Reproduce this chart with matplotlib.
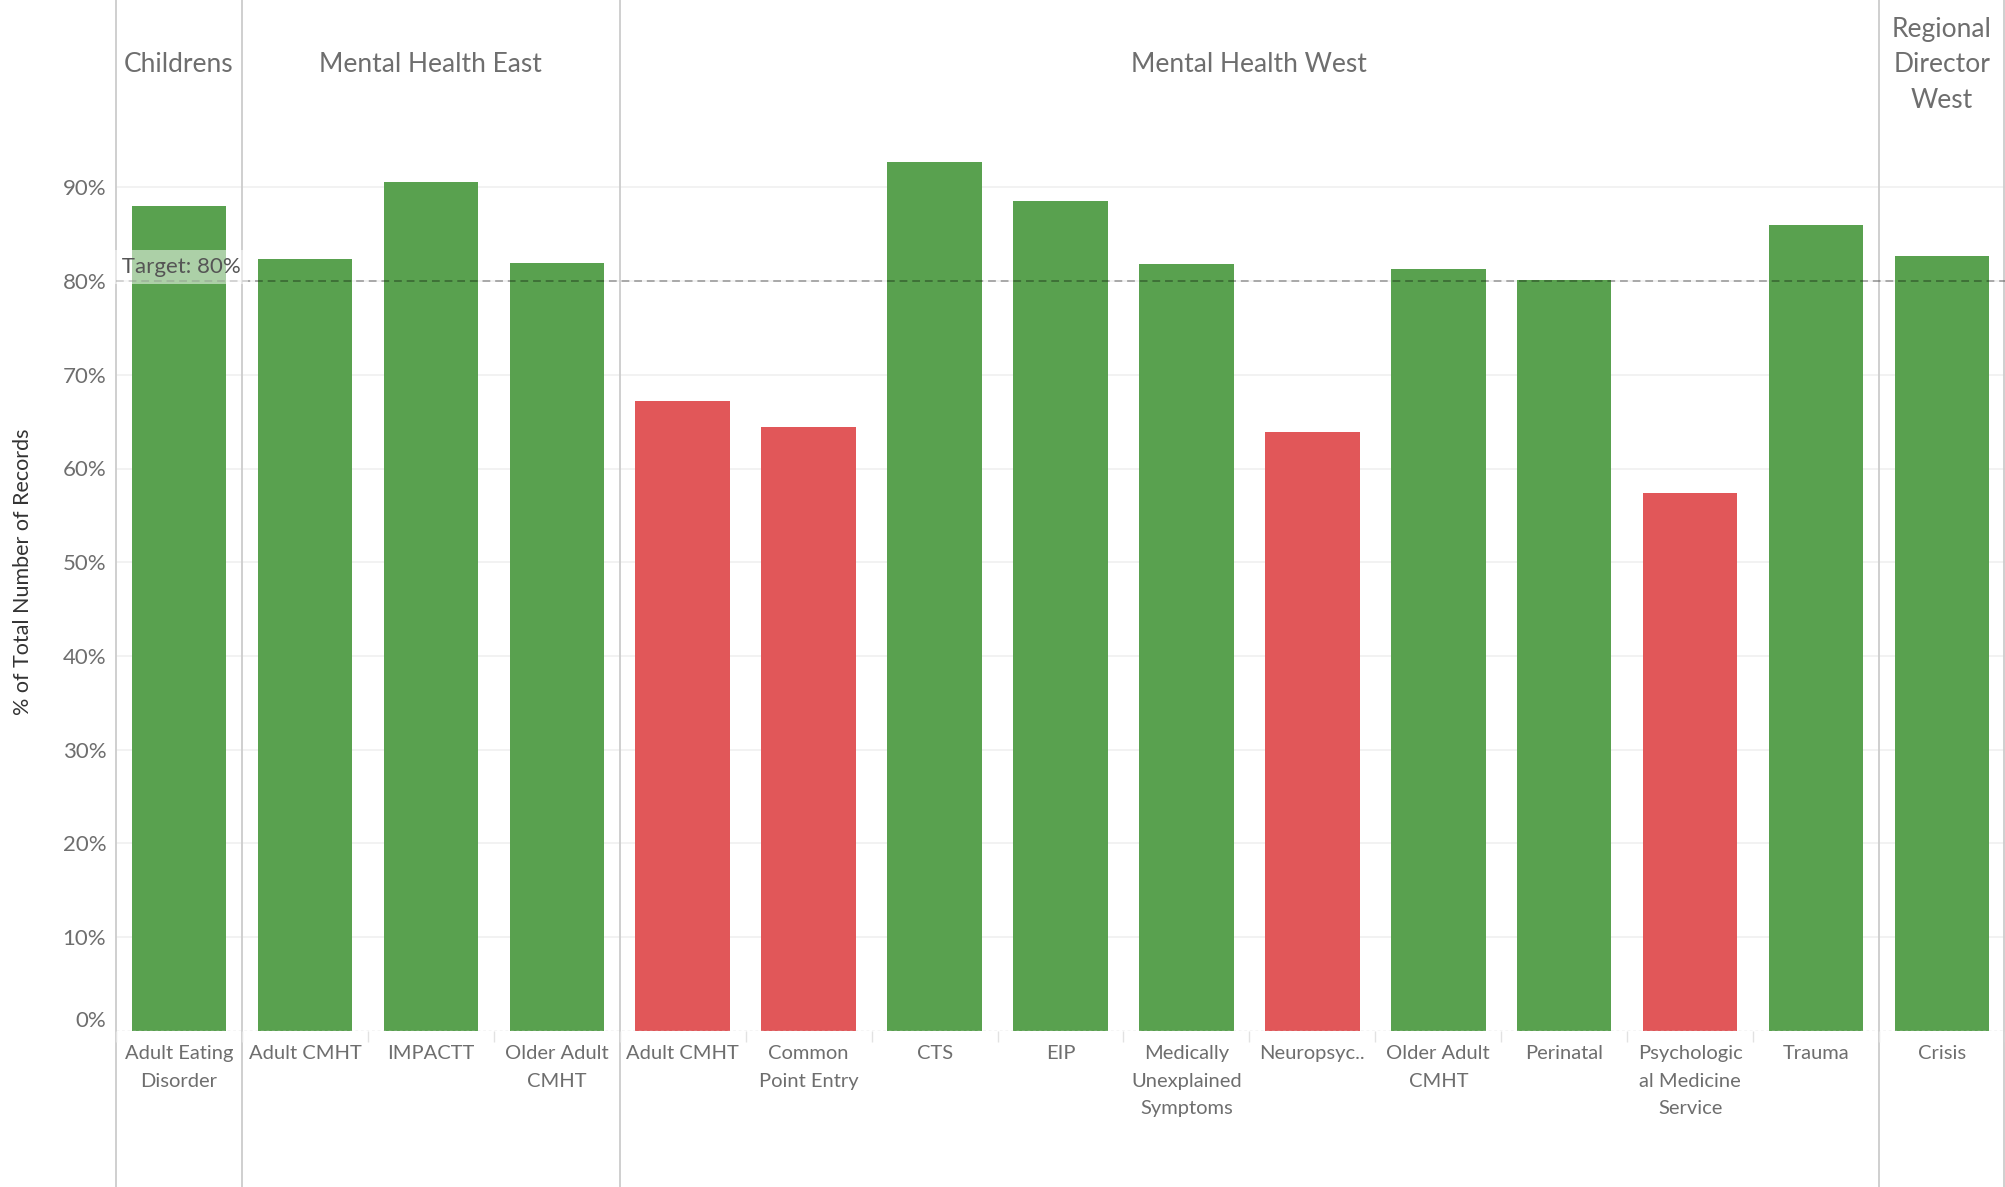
#!/usr/bin/env python3
"""
Bar chart of % of total number of records per team, grouped by directorate,
with a dashed 80% target line. Bars under target are shown in red.
"""

import matplotlib

matplotlib.use("Agg")
import matplotlib.pyplot as plt
import matplotlib.transforms as mtransforms
import numpy as np

# Data
groups = ["Childrens", "Mental Health East", "Mental Health West", "Regional\nDirector\nWest"]
group_sizes = [1, 3, 10, 1]

teams = [
    "Adult Eating\nDisorder",
    "Adult CMHT",
    "IMPACTT",
    "Older Adult\nCMHT",
    "Adult CMHT",
    "Common\nPoint Entry",
    "CTS",
    "EIP",
    "Medically\nUnexplained\nSymptoms",
    "Neuropsyc..",
    "Older Adult\nCMHT",
    "Perinatal",
    "Psychologic\nal Medicine\nService",
    "Trauma",
    "Crisis",
]

pct_records = [88.0, 82.4, 90.6, 81.9, 67.2, 64.4, 92.7, 88.6, 81.8, 63.9, 81.3, 80.1, 57.4, 86.0, 82.7]

target = 80.0
y_ticks = [0, 10, 20, 30, 40, 50, 60, 70, 80, 90]

GREEN = "#59A14F"
RED = "#E15759"
TEXT_GREY = "#6e6e6e"
FONT = ["Lato", "DejaVu Sans"]

plt.rcParams["font.family"] = FONT


def main():
    fig = plt.figure(figsize=(20.05, 11.87), dpi=100)
    W, H = 2005, 1187

    # pane in pixel coordinates, converted to figure fractions
    left_px, right_px = 116, 2005
    top_px, base_px = 121, 1030.7
    ax = fig.add_axes(
        [left_px / W, 1 - base_px / H, (right_px - left_px) / W, (base_px - top_px) / H]
    )

    n = len(pct_records)
    x = np.arange(n)
    colors = [GREEN if v >= target else RED for v in pct_records]

    ax.bar(x, pct_records, width=0.75, color=colors, zorder=2)

    ax.set_xlim(-0.5, n - 0.5)
    ylim_top = (base_px - top_px) / 93.7 * 10
    ax.set_ylim(0, ylim_top)

    # gridlines
    for t in y_ticks[1:]:
        ax.axhline(t, color="#f0f0f0", lw=1.2, zorder=0)
    ax.axhline(0, color="#cfcfcf", lw=1, ls=(0, (2, 2)), zorder=3)

    # target reference line
    ax.axhline(target, color="black", alpha=0.3, lw=1.4, ls=(0, (4, 2.5)), zorder=4)
    ax.text(
        -0.5,
        target + 0.45,
        " Target: 80%",
        ha="left",
        va="bottom",
        fontsize=16,
        color="#555555",
        zorder=5,
        bbox=dict(facecolor="white", alpha=0.5, edgecolor="none", pad=5),
    )

    for s in ax.spines.values():
        s.set_visible(False)

    ax.set_yticks(y_ticks)
    ax.set_yticklabels([f"{t}%" for t in y_ticks], fontsize=16, color=TEXT_GREY)
    ax.tick_params(axis="y", length=0, pad=7)
    ax.get_yticklabels()[0].set_va("bottom")

    ax.set_xticks(x)
    ax.set_xticklabels(teams, fontsize=14.5, color=TEXT_GREY)
    for lbl in ax.get_xticklabels():
        lbl.set_linespacing(1.78)
    ax.tick_params(axis="x", length=0, pad=10)
    ax.set_xticks(np.arange(n + 1) - 0.5, minor=True)
    ax.tick_params(axis="x", which="minor", length=8, color="#e2e2e2", width=1)

    # group separators and headers, x in data units, y in figure fraction
    blend = mtransforms.blended_transform_factory(ax.transData, fig.transFigure)
    bounds = np.concatenate([[0], np.cumsum(group_sizes)]) - 0.5
    for b in bounds[:-1]:
        ax.plot([b, b], [0, 1], transform=blend, color="#cccccc", lw=1.3, clip_on=False, zorder=1)
    ax.plot([n - 0.5 - 0.004, n - 0.5 - 0.004], [0, 1], transform=blend,
            color="#cccccc", lw=1.3, clip_on=False, zorder=1)

    for g, lo, hi in zip(groups, bounds[:-1], bounds[1:]):
        ax.text((lo + hi) / 2, 1 - 65 / H, g, transform=blend, ha="center", va="center",
                fontsize=19, color=TEXT_GREY, linespacing=1.5)

    fig.text(23 / W, 1 - 572 / H, "% of Total Number of Records", rotation=90,
             ha="center", va="center", fontsize=15.5, color="#333333")

    fig.savefig("out.png", dpi=100, facecolor="white")


if __name__ == "__main__":
    main()
